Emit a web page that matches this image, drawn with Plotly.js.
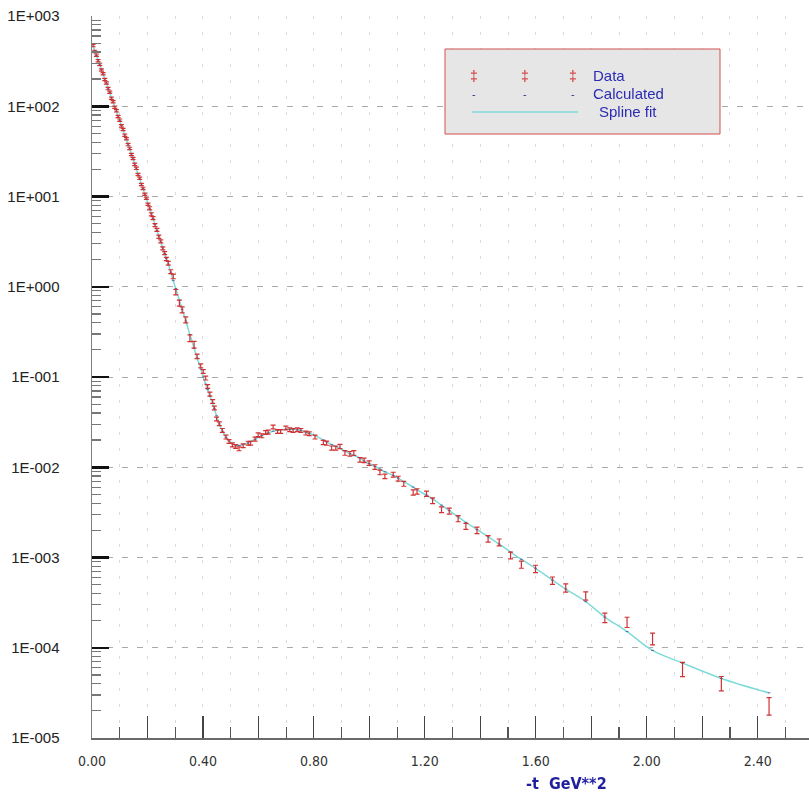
<!DOCTYPE html>
<html><head><meta charset="utf-8">
<script src="https://cdn.plot.ly/plotly-3.0.1.min.js"></script>
<style>html,body{margin:0;padding:0;background:#fff}#chart{width:809px;height:793px}</style>
</head><body><div id="chart"></div>
<script>
// -t values (GeV^2)
const tVals = [
 0.004,0.010,0.016,0.022,0.028,0.034,0.040,0.046,0.052,0.058,
 0.064,0.070,0.076,0.082,0.088,0.094,0.100,0.106,0.112,0.118,
 0.124,0.130,0.136,0.142,0.148,0.154,0.160,0.166,0.172,0.178,
 0.184,0.190,0.196,0.202,0.208,0.214,0.220,0.227,0.234,0.241,
 0.248,0.255,0.262,0.268,
 0.275,0.284,0.293,0.302,0.315,0.325,0.338,0.353,0.368,0.379,
 0.392,0.401,0.410,0.417,0.425,0.435,0.441,
 0.449,0.459,0.470,0.483,0.494,0.506,0.518,0.530,0.545,0.563,
 0.572,0.588,0.599,0.612,0.626,0.635,0.653,0.669,0.680,0.699,
 0.713,0.725,0.740,0.753,0.771,0.783,0.804,
 0.834,0.846,0.864,0.879,0.894,0.912,0.930,0.944,0.966,0.981,
 0.999,1.020,1.038,1.056,1.086,1.104,1.124,1.158,1.172,
 1.206,1.228,1.260,1.288,1.320,1.348,1.388,1.428,1.468,1.509,
 1.548,1.599,1.660,1.708,1.780,
 1.849,1.929,2.021,2.129,2.269,2.441
];
// measured cross section (Data)
const dataVals = [
 470,405,368,320,291,252,229,198,181,157,
 143,123,112,97.5,88.9,77.0,70.1,60.6,55.2,47.8,
 43.6,37.6,34.1,29.2,26.4,22.7,20.5,17.5,15.9,13.6,
 12.3,10.6,9.55,8.21,7.40,6.35,5.76,4.82,4.27,3.58,
 3.18,2.66,2.36,2.03,
 1.82,1.47,1.30,0.871,0.658,0.555,0.430,0.269,0.228,0.169,
 0.133,0.115,0.0973,0.0785,0.0646,0.0536,0.0453,
 0.0342,0.0303,0.0256,0.0216,0.0193,0.0177,0.0170,0.0160,0.0173,0.0185,
 0.0185,0.0205,0.0229,0.0223,0.0243,0.0245,0.0279,0.0249,0.0249,0.0272,
 0.0260,0.0256,0.0260,0.0256,0.0239,0.0235,0.0216,
 0.0188,0.0185,0.0163,0.0163,0.0170,0.0144,0.0141,0.0144,0.0121,0.0119,
 0.0111,0.01005,0.00875,0.00791,0.00826,0.00746,0.00656,0.00526,0.00540,
 0.00509,0.00426,0.00338,0.00327,0.00269,0.00221,0.00200,0.00161,0.00147,0.00105,
 0.000832,0.000746,0.000553,0.000459,0.000374,
 0.000214,0.000191,0.000125,0.0000573,0.0000400,0.0000224
];
// calculated values (spline fit passes through them)
const calcVals = [
 463,411,365,324,288,256,227,201,179,159,
 141,125,111,98.9,87.7,78.0,69.2,61.4,54.6,48.4,
 43.0,38.2,33.6,29.6,26.1,23.0,20.2,17.8,15.7,13.8,
 12.2,10.7,9.44,8.32,7.31,6.44,5.68,4.90,4.22,3.64,
 3.13,2.70,2.33,2.06,
 1.78,1.45,1.17,0.955,0.708,0.562,0.417,0.295,0.209,0.162,
 0.123,0.100,0.0832,0.0724,0.0617,0.0513,0.0447,
 0.0372,0.0302,0.0251,0.0214,0.0195,0.0182,0.0176,0.0174,0.0178,0.0186,
 0.0193,0.0204,0.0214,0.0224,0.0234,0.0240,0.0251,0.0257,0.0260,0.0263,
 0.0263,0.0263,0.0260,0.0257,0.0245,0.0237,0.0224,
 0.0200,0.0191,0.0178,0.0170,0.0162,0.0151,0.0141,0.0135,0.0126,0.0117,
 0.0110,0.0102,0.00955,0.00891,0.00813,0.00759,0.00692,0.00603,0.00562,
 0.00490,0.00447,0.00380,0.00331,0.00282,0.00245,0.00204,0.00170,0.00141,0.00115,
 0.000955,0.000759,0.000562,0.000447,0.000324,
 0.000219,0.000151,0.0000933,0.0000676,0.0000457,0.0000316
];
// relative errors of the data
const relErr = [
 0.03,0.03,0.03,0.03,0.03,0.03,0.03,0.03,0.03,0.03,
 0.03,0.03,0.03,0.03,0.03,0.03,0.03,0.03,0.03,0.03,
 0.03,0.03,0.03,0.03,0.03,0.03,0.03,0.03,0.03,0.03,
 0.03,0.03,0.03,0.03,0.04,0.04,0.04,0.04,0.04,0.04,
 0.04,0.04,0.04,0.04,
 0.05,0.05,0.06,0.07,0.08,0.08,0.08,0.09,0.09,0.06,
 0.05,0.05,0.05,0.05,0.05,0.05,0.05,
 0.05,0.05,0.05,0.05,0.05,0.05,0.05,0.05,0.05,0.05,
 0.05,0.05,0.05,0.05,0.05,0.05,0.05,0.05,0.05,0.05,
 0.05,0.05,0.05,0.05,0.05,0.05,0.05,
 0.055,0.055,0.055,0.055,0.055,0.06,0.06,0.06,0.06,0.06,
 0.06,0.06,0.06,0.06,0.065,0.065,0.065,0.07,0.07,
 0.07,0.075,0.075,0.08,0.08,0.08,0.085,0.085,0.09,0.09,
 0.095,0.10,0.10,0.11,0.11,
 0.13,0.14,0.16,0.20,0.20,0.25
];
const yTickVals = [1e-5,1e-4,1e-3,1e-2,1e-1,1,10,100,1000];
const yTickText = ['1E-005','1E-004','1E-003','1E-002','1E-001','1E+000','1E+001','1E+002','1E+003'];
const xTickVals = [0,0.2,0.4,0.6,0.8,1.0,1.2,1.4,1.6,1.8,2.0,2.2,2.4];
const xTickText = ['0.00','','0.40','','0.80','','1.20','','1.60','','2.00','','2.40'];
const legendLabels = ['Data','Calculated','Spline fit'];
const xTitleText = '-t\u00a0 GeV**2';

const n = tVals.length;
if (dataVals.length !== n || calcVals.length !== n || relErr.length !== n) {
  throw new Error('length mismatch ' + n + ' ' + dataVals.length + ' ' + calcVals.length + ' ' + relErr.length);
}
const errPlus = dataVals.map((v, i) => v * relErr[i]);
const errMinus = dataVals.map((v, i) => v * relErr[i] / (1 + relErr[i]));

const RED = '#d03232';
const CYAN = '#7fdada';
const BLUE = '#2b2bb3';
const narrow = "'Liberation Sans Narrow', 'DejaVu Sans Condensed', 'Arial Narrow', sans-serif";
const sans = "'Liberation Sans', Arial, sans-serif";

const traces = [
  {x: tVals, y: calcVals, mode: 'lines', line: {color: CYAN, width: 1.5, shape: 'spline'}, hoverinfo: 'skip'},
  {x: tVals, y: calcVals, mode: 'markers', marker: {symbol: 'line-ew', size: 2, color: '#3a3a8a', line: {width: 1, color: '#3a3a8a'}}, opacity: 0.7},
  {x: tVals, y: dataVals, mode: 'markers', marker: {size: 1, color: 'rgba(0,0,0,0)'},
   error_y: {type: 'data', symmetric: false, array: errPlus, arrayminus: errMinus, color: RED, thickness: 1.2, width: 2.5}}
];

// plot area: 92..809 px horizontally, 16..738 px vertically
const PL = 92, PR = 809, PT = 16, PB = 738;
const px = x => (x - PL) / (PR - PL);
const py = y => (PB - y) / (PB - PT);

const shapes = [
  {type: 'rect', xref: 'paper', yref: 'paper', x0: px(445), x1: px(720), y0: py(134), y1: py(49),
   fillcolor: '#e6e6e6', line: {color: '#d05050', width: 1}, layer: 'above'},
  {type: 'line', xref: 'paper', yref: 'paper', x0: px(472), x1: px(578), y0: py(112), y1: py(112),
   line: {color: CYAN, width: 1.5}, layer: 'above'}
];
const annotations = [];
[474, 525, 573].forEach(x => {
  annotations.push({xref: 'paper', yref: 'paper', x: px(x), y: py(76), text: '\u2021', showarrow: false,
    font: {family: sans, size: 14, color: RED}, xanchor: 'center', yanchor: 'middle'});
  annotations.push({xref: 'paper', yref: 'paper', x: px(x), y: py(94), text: '-', showarrow: false,
    font: {family: sans, size: 11, color: '#2b2b9a'}, xanchor: 'center', yanchor: 'middle'});
});
annotations.push({xref: 'paper', yref: 'paper', x: px(591), y: py(76), text: legendLabels[0], showarrow: false,
  font: {family: sans, size: 15, color: BLUE}, xanchor: 'left', yanchor: 'middle'});
annotations.push({xref: 'paper', yref: 'paper', x: px(591), y: py(94), text: legendLabels[1], showarrow: false,
  font: {family: sans, size: 15, color: BLUE}, xanchor: 'left', yanchor: 'middle'});
annotations.push({xref: 'paper', yref: 'paper', x: px(597), y: py(112), text: legendLabels[2], showarrow: false,
  font: {family: sans, size: 15, color: BLUE}, xanchor: 'left', yanchor: 'middle'});
annotations.push({xref: 'paper', yref: 'paper', x: px(566), y: py(783), text: '<b>' + xTitleText + '</b>', showarrow: false,
  font: {family: narrow, size: 16, color: '#1f1fa0'}, xanchor: 'center', yanchor: 'middle'});

const layout = {
  width: 809, height: 793,
  margin: {l: PL, r: 809 - PR, t: PT, b: 793 - PB, pad: 0},
  paper_bgcolor: '#ffffff', plot_bgcolor: '#ffffff',
  showlegend: false,
  xaxis: {
    range: [0, 2.585], tickmode: 'array', tickvals: xTickVals, ticktext: xTickText,
    ticks: 'inside', ticklen: 22, tickwidth: 1.2, tickcolor: '#444',
    ticklabelstandoff: 9, tickfont: {family: narrow, size: 14, color: '#333'},
    showline: true, linecolor: '#6a6a6a', linewidth: 2,
    showgrid: true, gridcolor: '#dadada', griddash: '3px,13px', gridwidth: 1, zeroline: false,
    minor: {tickmode: 'linear', tick0: 0, dtick: 0.1, ticks: 'inside', ticklen: 11, tickwidth: 1.2, tickcolor: '#555',
            showgrid: true, gridcolor: '#dadada', griddash: '3px,13px', gridwidth: 1}
  },
  yaxis: {
    type: 'log', range: [-5, 3], tickmode: 'array', tickvals: yTickVals, ticktext: yTickText,
    ticks: 'inside', ticklen: 17, tickwidth: 2.5, tickcolor: '#111',
    ticklabelstandoff: 28, tickfont: {family: sans, size: 15, color: '#222'},
    showline: true, linecolor: '#808080', linewidth: 1.5,
    showgrid: true, gridcolor: '#aaaaaa', griddash: '6px,9px', gridwidth: 1, zeroline: false,
    minor: {ticks: 'inside', ticklen: 9, tickwidth: 1.2, tickcolor: '#777', dtick: 'D1', showgrid: false}
  },
  shapes: shapes,
  annotations: annotations
};

Plotly.newPlot('chart', traces, layout, {staticPlot: true, displayModeBar: false});
</script>
</body></html>
